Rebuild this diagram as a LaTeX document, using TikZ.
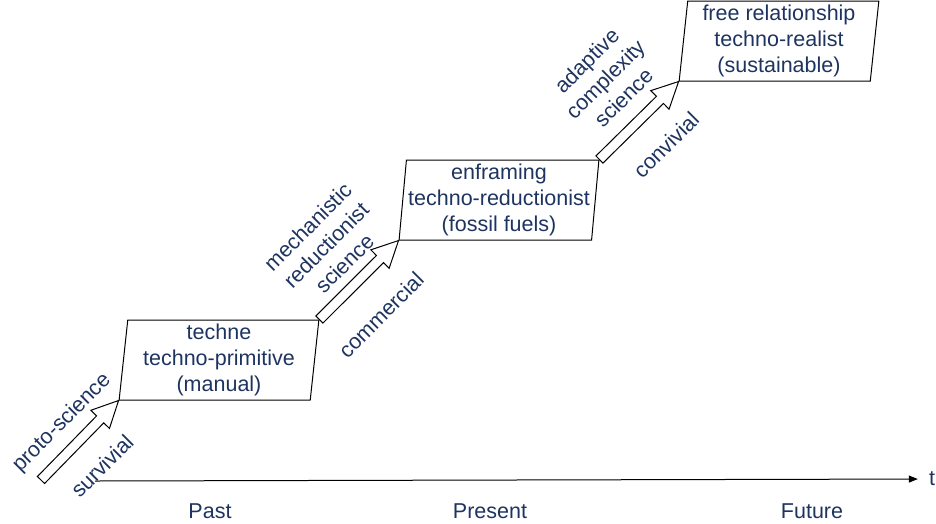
\documentclass[tikz,border=0pt]{standalone}
\usepackage{fontspec}
\setmainfont{Liberation Sans}
\usetikzlibrary{shapes.geometric,arrows.meta,calc}
\definecolor{txt}{RGB}{30,52,96}
\begin{document}
\begin{tikzpicture}[x=1pt,y=-1pt,
  bigfont/.style={font=\fontsize{21.5}{26}\selectfont},
  stage/.style={trapezium, trapezium left angle=84.3, trapezium right angle=95.7,
    trapezium stretches=true, draw, line width=1pt, minimum width=200pt,
    minimum height=80pt, inner sep=0pt, text=txt, align=center, bigfont},
  lbl/.style={text=txt, align=center, rotate=45, bigfont, inner sep=0pt},
  era/.style={text=txt, bigfont, inner sep=0pt},
  blockarrow/.style={draw, line width=1pt, line join=miter, fill=white, to path={
    let \p1=(\tikztostart), \p2=(\tikztotarget),
        \n1={atan2(\y2-\y1,\x2-\x1)},
        \n2={veclen(\x2-\x1,\y2-\y1)-26pt}
    in ($(\p1)+(\n1+90:5pt)$) -- ($(\p1)+(\n1:\n2)+(\n1+90:5pt)$)
       -- ($(\p1)+(\n1:\n2)+(\n1+90:13pt)$) -- (\p2)
       -- ($(\p1)+(\n1:\n2)+(\n1-90:13pt)$) -- ($(\p1)+(\n1:\n2)+(\n1-90:5pt)$)
       -- ($(\p1)+(\n1-90:5pt)$) -- cycle}}]
\useasboundingbox (0,0) rectangle (936,523);

% stages
\node[stage] (b1) at (219,360) {techne\\techno-primitive\\(manual)};
\node[stage] (b2) at (499,200) {enframing\\techno-reductionist\\(fossil fuels)};
\node[stage] (b3) at (779,41) {free relationship\\techno-realist\\(sustainable)};

% transitions
\coordinate (t1) at (41,480);
\draw[blockarrow] (t1) to (b1.bottom left corner);
\draw[blockarrow] (b1.top right corner) to (b2.bottom left corner);
\draw[blockarrow] (b2.top right corner) to (b3.bottom left corner);

% transition labels
\node[lbl] (l1a) at (62,423) {proto-science};
\node[lbl] (l1b) at (102,466) {survivial};
\node[lbl] (l2a) at (326,245) {mechanistic\\reductionist\\science};
\node[lbl] (l2b) at (381,315) {commercial};
\node[lbl] (l3a) at (605,79) {adaptive\\complexity\\science};
\node[lbl] (l3b) at (666,145) {convivial};

% time axis
\coordinate (ax0) at (95,481);
\node[era] (t) at (932,479) {t};
\draw[line width=1pt, -{Triangle[length=9pt,width=7pt]}, shorten >=11pt] (ax0) -- (t.west);
\node[era] (past) at (210,511) {Past};
\node[era] (present) at (490,511) {Present};
\node[era] (future) at (812,511) {Future};
\end{tikzpicture}
\end{document}
